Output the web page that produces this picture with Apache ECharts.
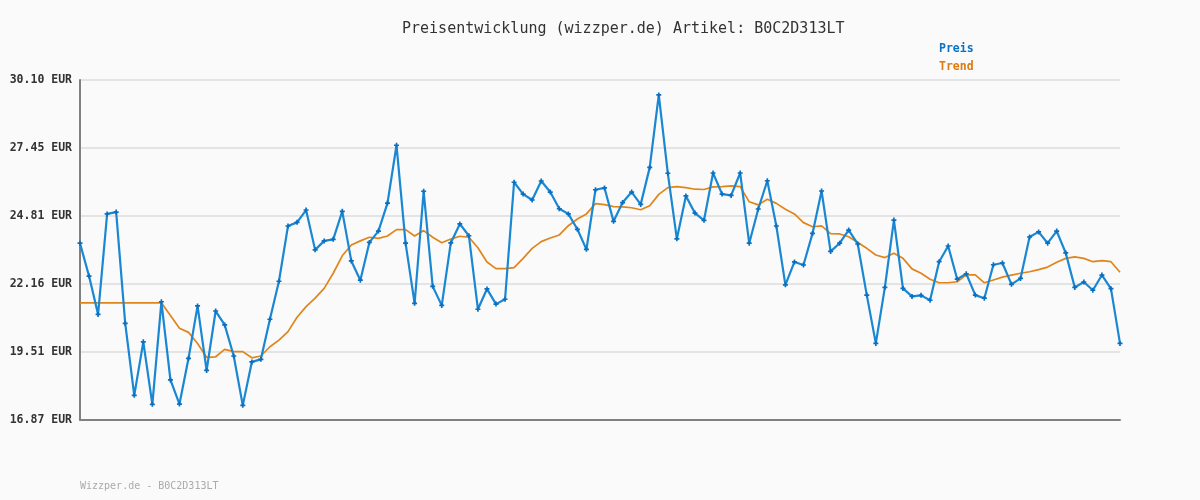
<!DOCTYPE html>
<html>
<head>
<meta charset="utf-8">
<script src="https://cdn.jsdelivr.net/npm/echarts@6/dist/echarts.min.js"></script>
<style>
  html, body { margin: 0; padding: 0; background: #fafafa; }
  #chart { width: 1200px; height: 500px; }
</style>
</head>
<body>
<div id="chart"></div>
<script>
// Preisdaten
const preis = [
  23.75, 22.47, 20.98, 24.89, 24.96, 20.63, 17.83, 19.91, 17.48, 21.47,
  18.43, 17.49, 19.27, 21.31, 18.80, 21.11, 20.57, 19.36, 17.44, 19.13,
  19.23, 20.79, 22.27, 24.42, 24.56, 25.04, 23.49, 23.84, 23.90, 24.99,
  23.06, 22.31, 23.78, 24.22, 25.31, 27.56, 23.75, 21.41, 25.77, 22.07,
  21.33, 23.76, 24.50, 24.04, 21.18, 21.97, 21.38, 21.57, 26.12, 25.66,
  25.43, 26.17, 25.74, 25.09, 24.89, 24.29, 23.51, 25.83, 25.90, 24.60,
  25.33, 25.74, 25.26, 26.70, 29.52, 26.47, 23.92, 25.59, 24.92, 24.64,
  26.48, 25.66, 25.61, 26.48, 23.75, 25.08, 26.18, 24.42, 22.13, 23.02,
  22.90, 24.13, 25.78, 23.43, 23.75, 24.26, 23.72, 21.73, 19.85, 22.03,
  24.65, 21.99, 21.68, 21.72, 21.53, 23.03, 23.64, 22.35, 22.56, 21.73,
  21.61, 22.91, 22.98, 22.15, 22.38, 23.99, 24.19, 23.75, 24.22, 23.37,
  22.03, 22.24, 21.92, 22.51, 21.98, 19.85
];

const trend = [
  21.43, 21.43, 21.43, 21.43, 21.43, 21.43, 21.43, 21.43, 21.43, 21.43,
  20.94, 20.44, 20.28, 19.85, 19.31, 19.33, 19.62, 19.53, 19.53, 19.29,
  19.36, 19.72, 19.98, 20.31, 20.87, 21.28, 21.61, 21.99, 22.58, 23.26,
  23.68, 23.84, 23.98, 23.94, 24.03, 24.28, 24.28, 24.03, 24.24, 23.98,
  23.77, 23.91, 24.02, 23.98, 23.57, 23.02, 22.76, 22.76, 22.80, 23.16,
  23.55, 23.81, 23.95, 24.07, 24.43, 24.69, 24.89, 25.29, 25.25, 25.17,
  25.16, 25.13, 25.05, 25.21, 25.65, 25.91, 25.95, 25.91, 25.85, 25.84,
  25.94, 25.95, 25.98, 25.95, 25.36, 25.24, 25.46, 25.30, 25.07, 24.89,
  24.55, 24.39, 24.42, 24.12, 24.11, 24.00, 23.78, 23.55, 23.29, 23.19,
  23.36, 23.16, 22.75, 22.58, 22.35, 22.21, 22.21, 22.25, 22.52, 22.52,
  22.21, 22.32, 22.43, 22.51, 22.58, 22.64, 22.72, 22.82, 23.01, 23.16,
  23.22, 23.16, 23.03, 23.07, 23.03, 22.62
];

// Achsenbeschriftung
const yMin = 16.87;
const yMax = 30.10;
const yTickLabels = ['16.87 EUR', '19.51 EUR', '22.16 EUR', '24.81 EUR', '27.45 EUR', '30.10 EUR'];
const yStep = (yMax - yMin) / (yTickLabels.length - 1);

const kategorien = preis.map((_, i) => String(i + 1));

const mono = '"DejaVu Sans Mono", "Liberation Mono", monospace';

const chart = echarts.init(document.getElementById('chart'));

const option = {
  backgroundColor: '#fafafa',
  animation: false,
  title: {
    text: 'Preisentwicklung (wizzper.de) Artikel: B0C2D313LT',
    left: 397,
    top: 17,
    textStyle: { fontFamily: mono, fontSize: 15, fontWeight: 'normal', color: '#333' }
  },
  legend: {
    orient: 'vertical',
    left: 929,
    top: 38,
    itemGap: 6,
    itemWidth: 0,
    itemHeight: 0,
    selectedMode: false,
    data: [
      { name: 'Preis', icon: 'rect', textStyle: { color: '#0a72c4' } },
      { name: 'Trend', icon: 'rect', textStyle: { color: '#dd7a10' } }
    ],
    textStyle: { fontFamily: mono, fontSize: 11.5, fontWeight: 'bold', padding: [0, 0, 0, 0] }
  },
  graphic: [{
    type: 'text',
    left: 80,
    top: 481,
    style: { text: 'Wizzper.de - B0C2D313LT', font: '10px ' + mono, fill: '#aaaaaa' }
  }],
  grid: { left: 80, right: 80, top: 80, bottom: 80 },
  xAxis: {
    type: 'category',
    data: kategorien,
    boundaryGap: false,
    axisLine: { lineStyle: { color: '#808080', width: 2 } },
    axisTick: { show: false },
    axisLabel: { show: false },
    splitLine: { show: false }
  },
  yAxis: {
    type: 'value',
    min: yMin,
    max: yMax,
    interval: yStep,
    axisLine: { show: true, lineStyle: { color: '#808080', width: 2 } },
    axisTick: { show: false },
    axisLabel: {
      margin: 8,
      fontFamily: mono,
      fontSize: 11.5,
      fontWeight: 'bold',
      color: '#333',
      formatter: function (v) {
        const idx = Math.round((v - yMin) / yStep);
        return yTickLabels[idx] || '';
      }
    },
    splitLine: { lineStyle: { color: '#e4e4e4', width: 2 } }
  },
  series: [
    {
      name: 'Preis',
      type: 'line',
      data: preis,
      lineStyle: { color: '#1a87d2', width: 2.2 },
      itemStyle: { color: '#0a6fc0' },
      symbol: 'path://M2,0h2v2h2v2h-2v2h-2v-2h-2v-2h2z',
      symbolSize: 5,
      showSymbol: true,
      z: 3
    },
    {
      name: 'Trend',
      type: 'line',
      data: trend,
      lineStyle: { color: '#e0851a', width: 1.7 },
      itemStyle: { color: '#e0851a' },
      symbol: 'none',
      z: 2
    }
  ]
};

chart.setOption(option);
</script>
</body>
</html>
